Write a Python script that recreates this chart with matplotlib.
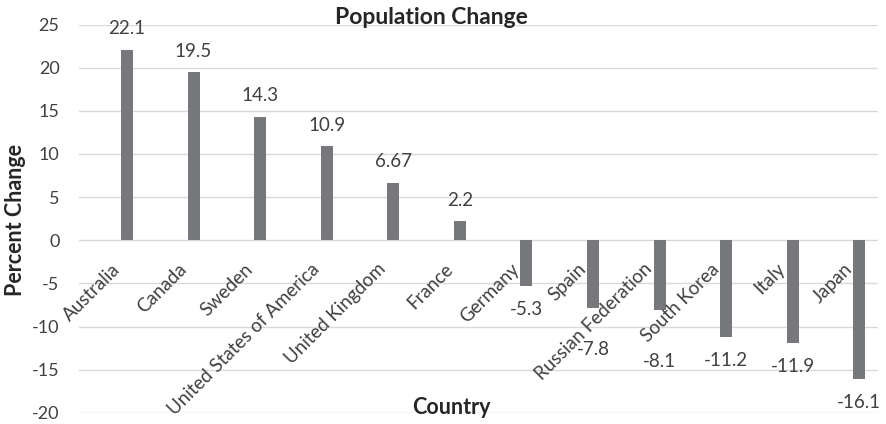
import matplotlib
matplotlib.use("Agg")
import matplotlib.pyplot as plt
import numpy as np

countries = ["Australia", "Canada", "Sweden", "United States of America",
             "United Kingdom", "France", "Germany", "Spain",
             "Russian Federation", "South Korea", "Italy", "Japan"]
pct_change = [22.1, 19.5, 14.3, 10.9, 6.67, 2.2, -5.3, -7.8, -8.1, -11.2, -11.9, -16.1]
value_labels = ["22.1", "19.5", "14.3", "10.9", "6.67", "2.2",
                "-5.3", "-7.8", "-8.1", "-11.2", "-11.9", "-16.1"]
y_ticks = [-20, -15, -10, -5, 0, 5, 10, 15, 20, 25]

plt.rcParams["font.family"] = ["Lato", "DejaVu Sans"]

W, H = 886, 424
fig = plt.figure(figsize=(W / 100, H / 100), dpi=100)
ax = fig.add_axes([79 / W, 1 - 412.8 / H, (878 - 79) / W, (412.8 - 24.5) / H])

x = np.arange(len(countries))
bar_shift = 0.22
ax.bar(x + bar_shift, pct_change, width=0.18, color="#77787b", zorder=3)

ax.set_xlim(-0.5, len(countries) - 0.5)
ax.set_ylim(-20, 25)
ax.set_yticks(y_ticks)
ax.set_yticklabels([str(t) for t in y_ticks], fontsize=13, color="#404040")
ax.tick_params(axis="y", length=0, pad=14)
ax.set_xticks([])
ax.grid(axis="y", color="#d9d9d9", linewidth=1.0, zorder=0)
for s in ax.spines.values():
    s.set_visible(False)

# labels nudged further down so they clear the slanted country names
extra_drop = {"Spain": 13, "Russian Federation": 20}

# value labels above positive bars and below negative ones
for xi, v, lab, name in zip(x, pct_change, value_labels, countries):
    off = 15 if v >= 0 else -17 - extra_drop.get(name, 0)
    ax.annotate(lab, (xi + bar_shift, v), xytext=(0, off), textcoords="offset points",
                ha="center", va="center", fontsize=13.5, color="#404040")

# category names drawn along the zero line
for xi, name in zip(x, countries):
    ax.annotate(name, (xi, 0), xytext=(-1, -14.5), textcoords="offset points",
                rotation=45, rotation_mode="anchor", ha="right", va="top",
                fontsize=13.5, color="#404040")

fig.text(431 / W, 1 - 17 / H, "Population Change", ha="center", va="center",
         fontsize=16.5, fontweight="bold", color="#262626")
fig.text(451 / W, 1 - 408 / H, "Country", ha="center", va="center",
         fontsize=15.5, fontweight="bold", color="#262626")
fig.text(16 / W, 1 - 220 / H, "Percent Change", ha="center", va="center",
         rotation=90, fontsize=15.5, fontweight="bold", color="#262626")

fig.savefig("out.png", dpi=100)
